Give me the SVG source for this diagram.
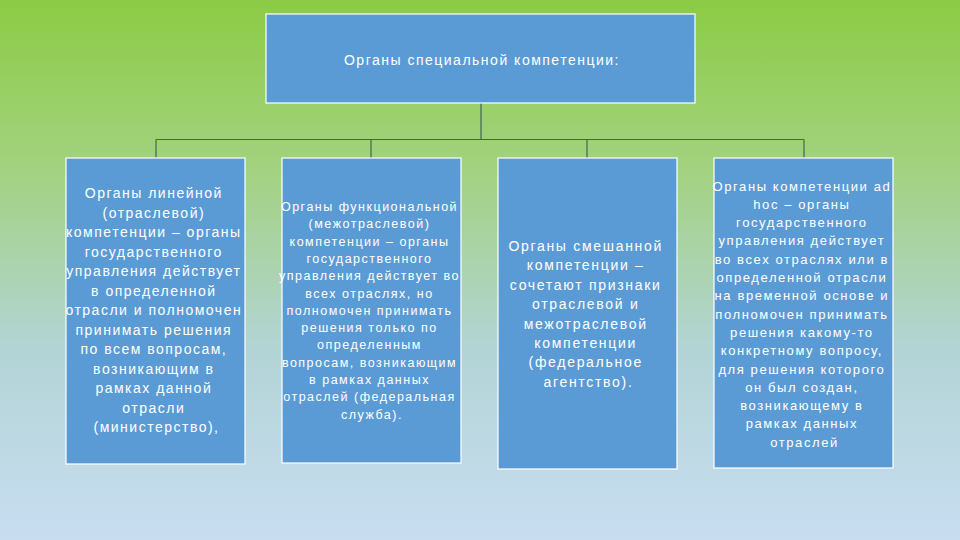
<svg xmlns="http://www.w3.org/2000/svg" width="960" height="540" viewBox="0 0 960 540">
<defs>
<linearGradient id="bg" x1="0" y1="0" x2="0" y2="1">
<stop offset="0" stop-color="#8ccb45"/>
<stop offset="0.3" stop-color="#a2d27d"/>
<stop offset="0.65" stop-color="#b3d4d6"/>
<stop offset="1" stop-color="#c8ddf0"/>
</linearGradient>
<style>
.box{fill:#5b9bd5;stroke:#ffffff;stroke-width:1.2}
.t{fill:#ffffff;font-family:"Liberation Sans",Arial,sans-serif;text-anchor:middle;letter-spacing:1.5px}
.c{stroke:#3f6656;stroke-width:1.2;fill:none}
</style>
</defs>
<rect x="0" y="0" width="960" height="540" fill="url(#bg)"/>
<g id="connectors">
<path class="c" d="M481 103 V139.5"/>
<path class="c" d="M156 139.5 H804"/>
<path class="c" d="M156 139.5 V158 M371 139.5 V158 M587 139.5 V158 M804 139.5 V158"/>
</g>
<g id="root">
<rect class="box" x="266" y="14" width="429" height="89"/>
<text class="t" x="482" y="65" font-size="14">Органы специальной компетенции:</text>
</g>
<g id="n1">
<rect class="box" x="66" y="158" width="179" height="306"/>
<text class="t" font-size="14">
<tspan x="156.5" y="198">Органы линейной</tspan>
<tspan x="156.5" y="217.5">(отраслевой)</tspan>
<tspan x="156.5" y="237">компетенции – органы</tspan>
<tspan x="156.5" y="256.5">государственного</tspan>
<tspan x="156.5" y="276">управления действует</tspan>
<tspan x="156.5" y="295.5">в определенной</tspan>
<tspan x="156.5" y="315">отрасли и полномочен</tspan>
<tspan x="156.5" y="334.5">принимать решения</tspan>
<tspan x="156.5" y="354">по всем вопросам,</tspan>
<tspan x="156.5" y="373.5">возникающим в</tspan>
<tspan x="156.5" y="393">рамках данной</tspan>
<tspan x="156.5" y="412.5">отрасли</tspan>
<tspan x="156.5" y="432">(министерство),</tspan>
</text>
</g>
<g id="n2">
<rect class="box" x="282" y="158" width="179" height="305"/>
<text class="t" font-size="12.5" style="letter-spacing:1.5px">
<tspan x="372" y="211">Органы функциональной</tspan>
<tspan x="372" y="228.3">(межотраслевой)</tspan>
<tspan x="372" y="245.6">компетенции – органы</tspan>
<tspan x="372" y="262.9">государственного</tspan>
<tspan x="372" y="280.2">управления действует во</tspan>
<tspan x="372" y="297.5">всех отраслях, но</tspan>
<tspan x="372" y="314.8">полномочен принимать</tspan>
<tspan x="372" y="332.1">решения только по</tspan>
<tspan x="372" y="349.4">определенным</tspan>
<tspan x="372" y="366.7">вопросам, возникающим</tspan>
<tspan x="372" y="384">в рамках данных</tspan>
<tspan x="372" y="401.3">отраслей (федеральная</tspan>
<tspan x="372" y="418.6">служба).</tspan>
</text>
</g>
<g id="n3">
<rect class="box" x="498" y="158" width="179" height="311"/>
<text class="t" font-size="14" style="letter-spacing:1.7px">
<tspan x="588.5" y="251">Органы смешанной</tspan>
<tspan x="588.5" y="270.4">компетенции –</tspan>
<tspan x="588.5" y="289.8">сочетают признаки</tspan>
<tspan x="588.5" y="309.2">отраслевой и</tspan>
<tspan x="588.5" y="328.6">межотраслевой</tspan>
<tspan x="588.5" y="348">компетенции</tspan>
<tspan x="588.5" y="367.4">(федеральное</tspan>
<tspan x="588.5" y="386.8">агентство).</tspan>
</text>
</g>
<g id="n4">
<rect class="box" x="714" y="158" width="179" height="310"/>
<text class="t" font-size="13" style="letter-spacing:1.6px">
<tspan x="804.5" y="190.5">Органы компетенции ad</tspan>
<tspan x="804.5" y="208.8">hoc – органы</tspan>
<tspan x="804.5" y="227.1">государственного</tspan>
<tspan x="804.5" y="245.4">управления действует</tspan>
<tspan x="804.5" y="263.7">во всех отраслях или в</tspan>
<tspan x="804.5" y="282">определенной отрасли</tspan>
<tspan x="804.5" y="300.3">на временной основе и</tspan>
<tspan x="804.5" y="318.6">полномочен принимать</tspan>
<tspan x="804.5" y="336.9">решения какому-то</tspan>
<tspan x="804.5" y="355.2">конкретному вопросу,</tspan>
<tspan x="804.5" y="373.5">для решения которого</tspan>
<tspan x="804.5" y="391.8">он был создан,</tspan>
<tspan x="804.5" y="410.1">возникающему в</tspan>
<tspan x="804.5" y="428.4">рамках данных</tspan>
<tspan x="804.5" y="446.7">отраслей</tspan>
</text>
</g>
</svg>
